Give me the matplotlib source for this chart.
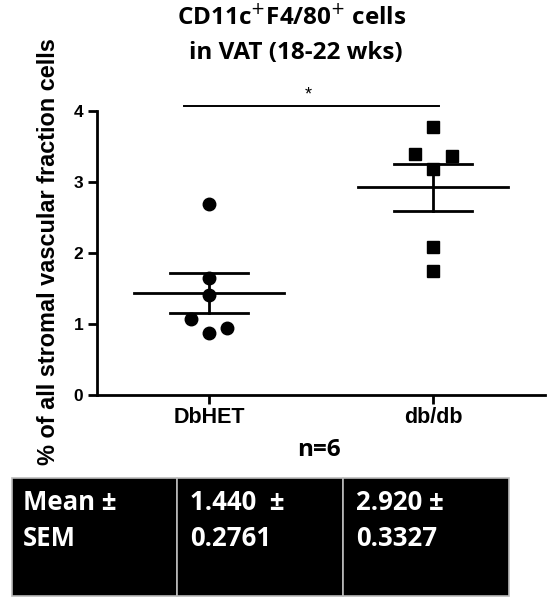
import numpy as np
import matplotlib
matplotlib.use("Agg")
import matplotlib.pyplot as plt
from matplotlib.patches import Rectangle

# data
groups = ["DbHET", "db/db"]
dbhet_vals = [2.69, 1.65, 1.41, 1.07, 0.87, 0.94]
dbhet_jitter = [0.0, 0.0, 0.0, -0.08, 0.0, 0.08]
dbdb_vals = [3.78, 3.39, 3.37, 3.19, 2.09, 1.74]
dbdb_jitter = [0.0, -0.08, 0.085, 0.0, 0.0, 0.0]
yticks = [0, 1, 2, 3, 4]
table_cells = ["Mean \u00b1\nSEM", "1.440  \u00b1\n0.2761", "2.920 \u00b1\n0.3327"]

plt.rcParams['font.family'] = ['Liberation Sans', 'DejaVu Sans']
TXT_FONT = ['Open Sans', 'DejaVu Sans']

W, H = 547.0, 600.0
fig = plt.figure(figsize=(5.47, 6.0), dpi=100)
ax = fig.add_axes([97 / W, 1 - 395 / H, 448 / W, 284 / H])

lw = 2.0
for i, (vals, jit, mk) in enumerate([(dbhet_vals, dbhet_jitter, 'o'),
                                     (dbdb_vals, dbdb_jitter, 's')]):
    v = np.array(vals)
    x = i + np.array(jit)
    ax.plot(x, v, ls='none', marker=mk, ms=9, color='black', zorder=3)
    m = v.mean()
    sem = v.std(ddof=1) / np.sqrt(len(v))
    ax.plot([i - 0.335, i + 0.335], [m, m], color='black', lw=lw)
    ax.plot([i - 0.175, i + 0.175], [m + sem, m + sem], color='black', lw=lw)
    ax.plot([i - 0.175, i + 0.175], [m - sem, m - sem], color='black', lw=lw)
    ax.plot([i, i], [m - sem, m + sem], color='black', lw=lw)

# significance bar
ax.plot([-0.112, 1.027], [4.07, 4.07], color='black', lw=1.4, clip_on=False)
ax.text(0.442, 4.22, "*", ha='center', va='center', fontsize=13)

ax.set_xlim(-0.5, 1.5)
ax.set_ylim(0, 4)
ax.set_yticks(yticks)
ax.set_xticks([0, 1])
ax.set_xticklabels(groups, fontsize=15.5, fontweight='bold')
for lab in ax.get_yticklabels():
    lab.set_fontsize(12.5)
    lab.set_fontweight('bold')
ax.spines['top'].set_visible(False)
ax.spines['right'].set_visible(False)
ax.spines['left'].set_linewidth(lw)
ax.spines['bottom'].set_linewidth(lw)
ax.tick_params(width=lw, length=6.3, direction='out')
ax.tick_params(axis='y', pad=3.5)
ax.tick_params(axis='x', pad=2)
ax.set_ylabel("% of all stromal vascular fraction cells", fontsize=16.9,
              fontweight='bold')
ax.yaxis.set_label_coords(-0.083, 0.505)

fig.text(292 / W, 1 - 18 / H, "CD11c$^{+}$F4/80$^{+}$ cells", ha='center', va='center',
         fontsize=17.5, fontweight='bold', family=TXT_FONT)
fig.text(296 / W, 1 - 53 / H, "in VAT (18-22 wks)", ha='center', va='center',
         fontsize=17.5, fontweight='bold', family=TXT_FONT)
fig.text(319 / W, 1 - 450 / H, "n=6", ha='center', va='center', fontsize=17.5,
         fontweight='bold', family=TXT_FONT)

# black table below the chart
col_edges = [12, 177, 343, 509]
text_pad = [11, 13, 13]
top_px, bot_px = 478, 596
for k, txt in enumerate(table_cells):
    x0 = col_edges[k] / W
    x1 = col_edges[k + 1] / W
    fig.patches.append(Rectangle((x0, 1 - bot_px / H), x1 - x0, (bot_px - top_px) / H,
                                 transform=fig.transFigure, facecolor='black',
                                 edgecolor='#bbbbbb', lw=1.2))
    for j, line in enumerate(txt.split("\n")):
        fig.text(x0 + text_pad[k] / W, 1 - (503 + 35 * j) / H, line, ha='left',
                 va='center', color='white', fontsize=18.5, fontweight='bold',
                 family=TXT_FONT)

fig.savefig("out.png", dpi=100)
